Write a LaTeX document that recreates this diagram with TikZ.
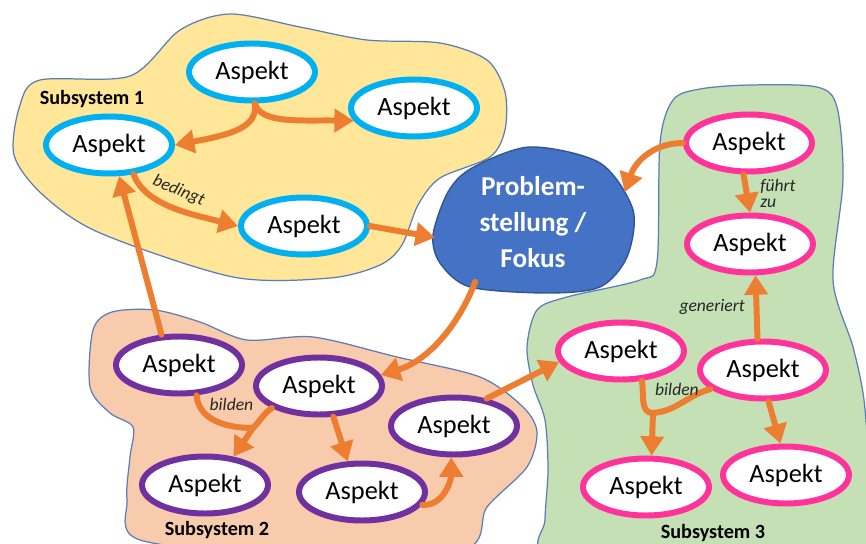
\documentclass[tikz,border=0pt]{standalone}
\usepackage{fontspec}
\setmainfont{Carlito}
\usepackage{tikz}
\usetikzlibrary{arrows.meta,shapes.geometric}
\definecolor{pfeilorange}{HTML}{ED7D31}
\definecolor{gelb}{HTML}{FFE699}
\definecolor{lachs}{HTML}{F8CBAD}
\definecolor{gruen}{HTML}{C5E0B4}
\definecolor{rand}{HTML}{5A7DB8}
\definecolor{cyanring}{HTML}{00B0F0}
\definecolor{lilaring}{HTML}{7030A0}
\definecolor{pinkring}{HTML}{FF3399}
\definecolor{fokusblau}{HTML}{4472C4}
\definecolor{fokusrand}{HTML}{2F5597}

\begin{document}
\begin{tikzpicture}[x=0.02cm, y=-0.02cm,
  blob/.style={draw=rand, line width=0.7pt},
  aspekt/.style={ellipse, fill=white, line width=3.4pt, minimum width=2.52cm, minimum height=1.14cm, inner sep=0pt, font=\fontsize{15}{18}\selectfont},
  msg/.style={draw=pfeilorange, line width=3.4pt, line cap=round, -{Triangle[length=11pt,width=13pt]}},
  con/.style={draw=pfeilorange, line width=3.4pt, line cap=round},
  lbl/.style={font=\itshape\fontsize{10}{9.5}\selectfont, text=black!85, inner sep=1pt},
  sublbl/.style={font=\bfseries\fontsize{11.5}{13}\selectfont}
]
\useasboundingbox (0,0) rectangle (866,544);

% Subsysteme
\draw[blob, fill=gelb] plot[smooth cycle] coordinates {(40,80) (130,76) (180,30) (230,14) (300,27) (367,40) (440,43) (487,60) (505,92) (505,130) (490,157) (440,178) (418,205) (402,245) (380,265) (330,278) (233,277) (100,233) (43,195) (14,155) (20,105)};
\draw[blob, fill=lachs] plot[smooth cycle] coordinates {(93,330) (112,312) (155,310) (200,322) (247,340) (313,337) (397,357) (480,377) (523,407) (537,432) (527,467) (487,507) (463,550) (300,556) (140,540) (127,500) (130,457) (133,427) (110,413) (90,387)};
\draw[blob, fill=gruen] plot[smooth cycle] coordinates {(660,143) (673,100) (700,89) (750,85) (817,87) (837,107) (843,180) (833,280) (853,347) (864,400) (868,470) (862,556) (700,560) (548,552) (545,520) (548,470) (545,420) (533,385) (527,347) (537,310) (567,297) (640,280) (657,262)};

% Fokus
\draw[draw=fokusrand, line width=0.8pt, fill=fokusblau] plot[smooth cycle] coordinates {(433,235) (448,192) (472,168) (530,147) (600,163) (633,210) (627,257) (600,287) (547,293) (470,287) (440,263)};
\node[ellipse, minimum width=4cm, minimum height=2.92cm, align=center, text=white, font=\bfseries\fontsize{15.5}{20.5}\selectfont] (prob) at (533,222) {Problem-\\stellung /\\Fokus};

\node[sublbl] (sub1) at (92,99) {Subsystem 1};
\node[sublbl] (sub2) at (217,530) {Subsystem 2};
\node[sublbl] (sub3) at (713,533) {Subsystem 3};

% Aspekte
\node[aspekt, draw=cyanring] (a1top) at (252,72) {Aspekt};
\node[aspekt, draw=cyanring] (a1right) at (414,108) {Aspekt};
\node[aspekt, draw=cyanring] (a1left) at (109,145) {Aspekt};
\node[aspekt, draw=cyanring] (a1mid) at (304,226) {Aspekt};

\node[aspekt, draw=lilaring] (s2a) at (179,365) {Aspekt};
\node[aspekt, draw=lilaring] (s2b) at (319,386) {Aspekt};
\node[aspekt, draw=lilaring] (s2c) at (454,426) {Aspekt};
\node[aspekt, draw=lilaring] (s2d) at (205,485) {Aspekt};
\node[aspekt, draw=lilaring] (s2e) at (362,492) {Aspekt};

\node[aspekt, draw=pinkring] (s3a) at (749,143) {Aspekt};
\node[aspekt, draw=pinkring] (s3b) at (750,244) {Aspekt};
\node[aspekt, draw=pinkring] (s3c) at (621,351) {Aspekt};
\node[aspekt, draw=pinkring] (s3d) at (763,370) {Aspekt};
\node[aspekt, draw=pinkring] (s3e) at (646,487) {Aspekt};
\node[aspekt, draw=pinkring] (s3f) at (786,475) {Aspekt};

% Pfeile Subsystem 1
\draw[msg] (a1top.-85) .. controls (258,126) and (235,134) .. (a1left.east);
\draw[msg] (a1top.-85) .. controls (261,124) and (300,120) .. (a1right.192);
\draw[msg] (a1left.-50) .. controls (145,205) and (190,214) .. (a1mid.west) node[lbl, above=3pt, sloped, pos=.5] {bedingt};
\draw[msg] (a1mid.east) -- (prob.189);

% Pfeile Subsystem 3
\draw[msg] (s3a.west) .. controls (655,143) and (636,160) .. (prob.18);
\draw[msg] (s3a.-100) -- (s3b.north) node[lbl, midway, right=5pt, align=left] {führt\\zu};
\draw[msg] (s3d.100) -- (s3b.-80) node[lbl, midway, left=4pt] {generiert};
\coordinate (j3) at (653,413);
\draw[con] (s3c.-55) to[out=-80, in=180] (j3);
\draw[con] (s3d.200) to[out=195, in=5] node[lbl, pos=.6, above=3pt] {bilden} (j3);
\draw[msg] (j3) -- (s3e.80);
\draw[msg] (s3d.-80) -- (s3f.100);

% Pfeile Subsystem 2
\draw[msg] (s2a.120) -- (a1left.-72);
\draw[msg] (prob.226) .. controls (460,322) and (430,360) .. (s2b.10);
\draw[msg] (s2c.40) -- (s3c.190);
\coordinate (j2) at (253,428);
\draw[con] (s2a.-60) to[out=-85, in=180] node[lbl, pos=.72, above=6pt] {bilden} (j2);
\draw[con] (s2b.205) to[out=215, in=45] (j2);
\draw[msg] (j2) -- (s2d.45);
\draw[msg] (s2b.-65) -- (s2e.115);
\draw[msg] (s2e.-12) to[out=-5, in=-90] (s2c.-95);
\end{tikzpicture}
\end{document}
